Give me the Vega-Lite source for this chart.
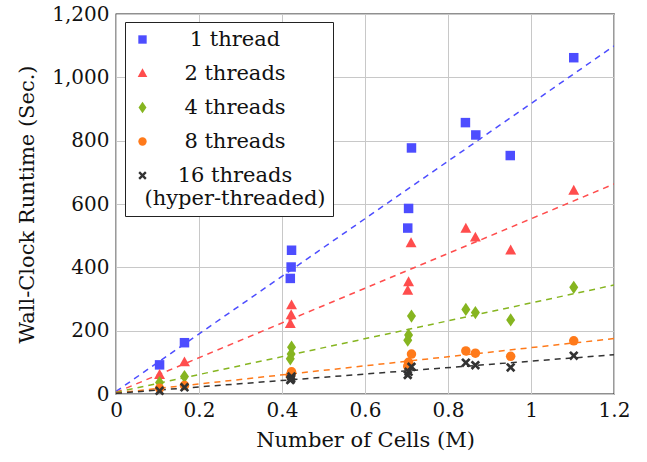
{
  "$schema": "https://vega.github.io/schema/vega-lite/v6.json",
  "width": 498,
  "height": 380,
  "autosize": {"type": "none"},
  "padding": {"left": 116, "top": 14, "right": 33, "bottom": 68},
  "background": "white",
  "config": {
    "font": "DejaVu Serif",
    "view": {"stroke": "#222222", "strokeWidth": 1.3}
  },
  "datasets": {
    "points": [
      {"series": "1 thread", "x": 0.105, "y": 92},
      {"series": "1 thread", "x": 0.165, "y": 162},
      {"series": "1 thread", "x": 0.423, "y": 454},
      {"series": "1 thread", "x": 0.422, "y": 401},
      {"series": "1 thread", "x": 0.42, "y": 365},
      {"series": "1 thread", "x": 0.712, "y": 777},
      {"series": "1 thread", "x": 0.705, "y": 586},
      {"series": "1 thread", "x": 0.703, "y": 524},
      {"series": "1 thread", "x": 0.842, "y": 857},
      {"series": "1 thread", "x": 0.867, "y": 818},
      {"series": "1 thread", "x": 0.95, "y": 753},
      {"series": "1 thread", "x": 1.103, "y": 1062},
      {"series": "2 threads", "x": 0.105, "y": 60},
      {"series": "2 threads", "x": 0.165, "y": 100},
      {"series": "2 threads", "x": 0.423, "y": 280},
      {"series": "2 threads", "x": 0.422, "y": 249},
      {"series": "2 threads", "x": 0.42, "y": 221},
      {"series": "2 threads", "x": 0.711, "y": 476},
      {"series": "2 threads", "x": 0.705, "y": 353},
      {"series": "2 threads", "x": 0.703, "y": 326},
      {"series": "2 threads", "x": 0.843, "y": 522},
      {"series": "2 threads", "x": 0.866, "y": 494},
      {"series": "2 threads", "x": 0.951, "y": 453},
      {"series": "2 threads", "x": 1.103, "y": 642},
      {"series": "4 threads", "x": 0.105, "y": 36},
      {"series": "4 threads", "x": 0.165, "y": 55},
      {"series": "4 threads", "x": 0.423, "y": 148},
      {"series": "4 threads", "x": 0.422, "y": 126},
      {"series": "4 threads", "x": 0.42, "y": 111},
      {"series": "4 threads", "x": 0.712, "y": 246},
      {"series": "4 threads", "x": 0.705, "y": 186},
      {"series": "4 threads", "x": 0.703, "y": 170},
      {"series": "4 threads", "x": 0.843, "y": 267},
      {"series": "4 threads", "x": 0.866, "y": 257},
      {"series": "4 threads", "x": 0.951, "y": 234},
      {"series": "4 threads", "x": 1.103, "y": 337},
      {"series": "8 threads", "x": 0.105, "y": 18},
      {"series": "8 threads", "x": 0.165, "y": 27},
      {"series": "8 threads", "x": 0.423, "y": 70},
      {"series": "8 threads", "x": 0.422, "y": 62},
      {"series": "8 threads", "x": 0.42, "y": 58},
      {"series": "8 threads", "x": 0.712, "y": 126},
      {"series": "8 threads", "x": 0.705, "y": 100},
      {"series": "8 threads", "x": 0.703, "y": 88},
      {"series": "8 threads", "x": 0.843, "y": 136},
      {"series": "8 threads", "x": 0.866, "y": 129},
      {"series": "8 threads", "x": 0.951, "y": 119},
      {"series": "8 threads", "x": 1.103, "y": 168},
      {"series": "16 threads", "x": 0.105, "y": 10},
      {"series": "16 threads", "x": 0.165, "y": 21},
      {"series": "16 threads", "x": 0.423, "y": 55},
      {"series": "16 threads", "x": 0.422, "y": 48},
      {"series": "16 threads", "x": 0.42, "y": 44},
      {"series": "16 threads", "x": 0.712, "y": 86},
      {"series": "16 threads", "x": 0.705, "y": 70},
      {"series": "16 threads", "x": 0.703, "y": 60},
      {"series": "16 threads", "x": 0.843, "y": 99},
      {"series": "16 threads", "x": 0.866, "y": 91},
      {"series": "16 threads", "x": 0.951, "y": 84},
      {"series": "16 threads", "x": 1.103, "y": 121}
    ],
    "fits": [
      {"fit": "fit 1", "x": 0, "y": 8},
      {"fit": "fit 1", "x": 1.2, "y": 1099},
      {"fit": "fit 2", "x": 0, "y": 5},
      {"fit": "fit 2", "x": 1.2, "y": 663},
      {"fit": "fit 4", "x": 0, "y": 5},
      {"fit": "fit 4", "x": 1.2, "y": 344},
      {"fit": "fit 8", "x": 0, "y": 3},
      {"fit": "fit 8", "x": 1.2, "y": 175},
      {"fit": "fit 16", "x": 0, "y": 2},
      {"fit": "fit 16", "x": 1.2, "y": 124}
    ]
  },
  "layer": [
    {
      "data": {"name": "fits"},
      "mark": {"type": "line", "strokeDash": [6, 5], "strokeWidth": 1.5, "clip": true},
      "encoding": {
        "x": {
          "field": "x", "type": "quantitative",
          "scale": {"domain": [0, 1.2], "nice": false, "zero": false},
          "axis": {
            "values": [0, 0.2, 0.4, 0.6, 0.8, 1, 1.2], "format": "~g",
            "title": "Number of Cells (M)",
            "domain": false, "ticks": false, "grid": true, "gridColor": "#c8c8c8", "labelFlush": false,
            "labelFont": "DejaVu Serif", "labelFontSize": 20, "labelColor": "#111111", "labelPadding": 6,
            "titleFont": "DejaVu Serif", "titleFontSize": 21, "titleFontWeight": "normal", "titleColor": "#111111", "titlePadding": 9
          }
        },
        "y": {
          "field": "y", "type": "quantitative",
          "scale": {"domain": [0, 1200], "nice": false},
          "axis": {
            "values": [0, 200, 400, 600, 800, 1000, 1200], "format": ",d",
            "title": "Wall-Clock Runtime (Sec.)",
            "domain": false, "ticks": false, "grid": true, "gridColor": "#c8c8c8", "labelFlush": false,
            "labelFont": "DejaVu Serif", "labelFontSize": 20, "labelColor": "#111111", "labelPadding": 7,
            "titleFont": "DejaVu Serif", "titleFontSize": 21, "titleFontWeight": "normal", "titleColor": "#111111", "titlePadding": 14
          }
        },
        "detail": {"field": "fit"},
        "stroke": {
          "field": "fit", "type": "nominal",
          "scale": {
            "domain": ["fit 1", "fit 2", "fit 4", "fit 8", "fit 16"],
            "range": ["#4d4dff", "#ff4d4d", "#86b520", "#ff7a1a", "#333333"]
          },
          "legend": null
        }
      }
    },
    {
      "data": {"name": "points"},
      "mark": {"type": "point", "filled": true, "opacity": 1, "size": 90},
      "encoding": {
        "x": {"field": "x", "type": "quantitative"},
        "y": {"field": "y", "type": "quantitative"},
        "color": {
          "field": "series", "type": "nominal",
          "scale": {
            "domain": ["1 thread", "2 threads", "4 threads", "8 threads", "16 threads"],
            "range": ["#4d4dff", "#ff4d4d", "#86b520", "#ff7a1a", "#333333"]
          },
          "legend": {
            "title": null,
            "orient": "none",
            "legendX": 9,
            "legendY": 8,
            "strokeColor": "#222222",
            "fillColor": "white",
            "padding": 7,
            "labelFont": "DejaVu Serif",
            "labelFontSize": 21,
            "labelColor": "#111111",
            "labelAlign": "center",
            "labelOffset": 82,
            "labelLimit": 400,
            "symbolSize": 70,
            "rowPadding": 12,
            "labelExpr": "datum.label == '16 threads' ? ['16 threads', '(hyper-threaded)'] : datum.label"
          }
        },
        "shape": {
          "field": "series", "type": "nominal",
          "scale": {
            "domain": ["1 thread", "2 threads", "4 threads", "8 threads", "16 threads"],
            "range": ["square", "M0,-1.25L1.15,0.85L-1.15,0.85Z", "M0,-1.4L0.95,0L0,1.4L-0.95,0Z", "circle", "M-1,-0.6L-0.6,-1L0,-0.4L0.6,-1L1,-0.6L0.4,0L1,0.6L0.6,1L0,0.4L-0.6,1L-1,0.6L-0.4,0Z"]
          },
          "legend": {
            "title": null,
            "orient": "none",
            "legendX": 9,
            "legendY": 8,
            "strokeColor": "#222222",
            "fillColor": "white",
            "padding": 7,
            "labelFont": "DejaVu Serif",
            "labelFontSize": 21,
            "labelColor": "#111111",
            "labelAlign": "center",
            "labelOffset": 82,
            "labelLimit": 400,
            "symbolSize": 70,
            "rowPadding": 12,
            "labelExpr": "datum.label == '16 threads' ? ['16 threads', '(hyper-threaded)'] : datum.label"
          }
        }
      }
    }
  ]
}
